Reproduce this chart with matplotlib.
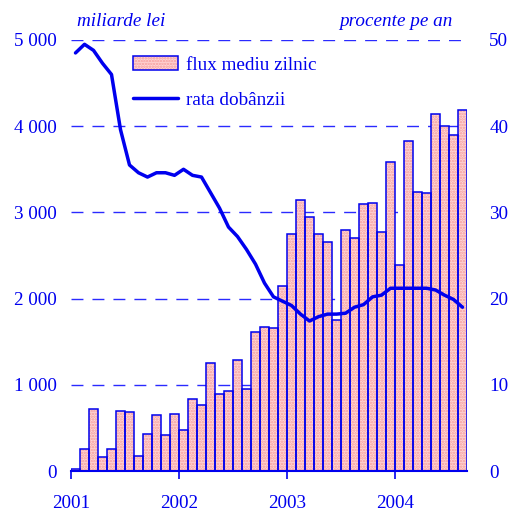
import matplotlib
matplotlib.use("Agg")
import matplotlib.pyplot as plt
import numpy as np
from matplotlib.legend_handler import HandlerTuple

# Monthly data Jan 2001 - Aug 2004
flux = [20, 252, 716, 159, 252, 693, 681, 170, 426, 646, 414, 658,
        474, 833, 762, 1249, 893, 924, 1291, 951, 1616, 1670, 1659, 2143,
        2747, 3144, 2947, 2746, 2653, 1750, 2792, 2700, 3101, 3113, 2769, 3588,
        2390, 3832, 3233, 3221, 4145, 3999, 3894, 4192]
rate = [48.5, 49.5, 48.8, 47.3, 46.0, 39.6, 35.5, 34.6, 34.1, 34.6, 34.6, 34.3,
        35.0, 34.3, 34.1, 32.3, 30.5, 28.3, 27.2, 25.7, 24.0, 21.8, 20.2, 19.7,
        19.2, 18.2, 17.4, 17.9, 18.2, 18.2, 18.3, 19.0, 19.3, 20.2, 20.4, 21.2,
        21.2, 21.2, 21.2, 21.2, 21.0, 20.4, 19.9, 19.0]
years = ["2001", "2002", "2003", "2004"]
left_ticks = [0, 1000, 2000, 3000, 4000, 5000]
left_labels = ["0", "1 000", "2 000", "3 000", "4 000", "5 000"]
right_ticks = [0, 10, 20, 30, 40, 50]
right_labels = ["0", "10", "20", "30", "40", "50"]
label_bars = "flux mediu zilnic"
label_line = "rata dobânzii"
unit_left = "miliarde lei"
unit_right = "procente pe an"

BLUE = "#0000ee"
FS = 13.8
plt.rcParams["font.family"] = ["Liberation Serif", "DejaVu Serif"]
plt.rcParams["hatch.linewidth"] = 1.2

W, H = 512, 511
fig = plt.figure(figsize=(W / 100, H / 100), dpi=100)
ax = fig.add_axes([71 / W, 1 - 471 / H, 396 / W, 431 / H])

x = np.arange(len(flux)) + 0.5
b1 = ax.bar(x, flux, width=1.0, facecolor="#ffd6d6", edgecolor="#f59a9a",
            hatch="......", linewidth=0, zorder=2)
b2 = ax.bar(x, flux, width=1.0, fill=False, edgecolor=BLUE, linewidth=1.1, zorder=3)

ax.set_xlim(0, len(flux))
ax.set_ylim(0, 5000)
ax.set_xticks([0, 12, 24, 36])
ax.set_xticklabels(years)
ax.set_yticks(left_ticks)
ax.set_yticklabels(left_labels)
ax.tick_params(axis="x", colors=BLUE, length=6, width=1.2, direction="out",
               labelsize=FS, pad=11)
ax.tick_params(axis="y", colors=BLUE, length=0, labelsize=FS, pad=10)
for s in ["left", "right", "top"]:
    ax.spines[s].set_visible(False)
ax.spines["bottom"].set_color(BLUE)
ax.spines["bottom"].set_linewidth(1.5)
ax.yaxis.grid(True, color="#2a2aff", linewidth=1.0, linestyle=(0, (8.6, 6.5)), zorder=1)
ax.set_axisbelow(True)

ax2 = ax.twinx()
ax2.set_ylim(0, 50)
ax2.set_yticks(right_ticks)
ax2.set_yticklabels(right_labels)
ax2.tick_params(axis="y", colors=BLUE, length=0, labelsize=FS, pad=16)
for s in ["left", "right", "top", "bottom"]:
    ax2.spines[s].set_visible(False)
ln, = ax2.plot(x, rate, color=BLUE, linewidth=2.5, solid_joinstyle="round",
               solid_capstyle="round", zorder=4)

leg = ax2.legend([(b1, b2), ln], [label_bars, label_line],
                 handler_map={tuple: HandlerTuple(ndivide=1)},
                 loc="upper left", bbox_to_anchor=(133 / W, 1 - 56 / H),
                 bbox_transform=fig.transFigure, frameon=False, fontsize=FS,
                 handlelength=2.35, handleheight=0.72, handletextpad=0.4,
                 labelspacing=0.92, borderpad=0, borderaxespad=0)
for t in leg.get_texts():
    t.set_color(BLUE)

fig.text(77 / W, 1 - 22 / H, unit_left, color=BLUE, fontsize=FS, style="italic",
         ha="left", va="center")
fig.text(453 / W, 1 - 22 / H, unit_right, color=BLUE, fontsize=FS, style="italic",
         ha="right", va="center")

fig.savefig("out.png", dpi=100)
